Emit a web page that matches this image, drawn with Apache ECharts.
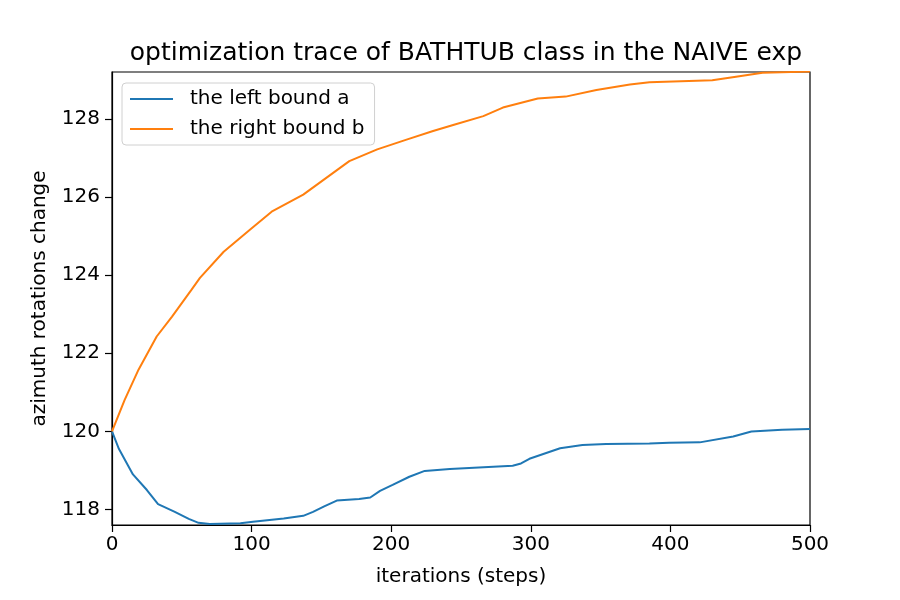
<!DOCTYPE html>
<html>
<head>
<meta charset="utf-8">
<script src="https://cdn.jsdelivr.net/npm/echarts@6/dist/echarts.min.js"></script>
<style>
  html, body { margin: 0; padding: 0; background: #fff; }
  #main { width: 900px; height: 600px; }
</style>
</head>
<body>
<div id="main"></div>
<script>
// data
var titleText = 'optimization trace of BATHTUB class in the NAIVE exp';
var seriesNames = ['the left bound a', 'the right bound b'];
var yTicks = [118, 120, 122, 124, 126, 128];

var leftSteps = [0, 5, 15, 25, 33, 45, 55, 62, 70, 92, 101, 123, 137, 144, 152, 161, 177, 185, 192, 201, 213, 224, 242, 287, 293, 299, 321, 337, 354, 385, 399, 421, 445, 458, 480, 500];
var leftValues = [120, 119.55, 118.9, 118.5, 118.14, 117.94, 117.76, 117.66, 117.63, 117.65, 117.69, 117.77, 117.84, 117.94, 118.08, 118.23, 118.27, 118.31, 118.48, 118.63, 118.84, 118.99, 119.04, 119.12, 119.18, 119.3, 119.57, 119.65, 119.68, 119.69, 119.71, 119.72, 119.87, 120.0, 120.04, 120.06];

var rightSteps = [0, 9, 19, 32, 43, 57, 63, 80, 99, 115, 137, 170, 190, 211, 230, 245, 266, 280, 305, 325, 347, 371, 385, 430, 447, 466, 500];
var rightValues = [120, 120.8, 121.58, 122.43, 122.94, 123.63, 123.93, 124.6, 125.17, 125.64, 126.06, 126.92, 127.22, 127.47, 127.69, 127.85, 128.07, 128.29, 128.52, 128.57, 128.74, 128.88, 128.94, 128.99, 129.08, 129.18, 129.21];

function pairs(xs, ys) {
  var out = [];
  for (var i = 0; i < xs.length; i++) out.push([xs[i], ys[i]]);
  return out;
}

var font = 'DejaVu Sans';
var myChart = echarts.init(document.getElementById('main'));

var option = {
  backgroundColor: '#fff',
  animation: false,
  textStyle: { fontFamily: font },
  title: {
    text: titleText,
    left: 461,
    textAlign: 'center',
    top: 36,
    textStyle: { fontFamily: font, fontSize: 25, fontWeight: 'normal', color: '#000' }
  },
  grid: {
    left: 112, right: 90, top: 72, bottom: 75,
    show: true, borderColor: '#000', borderWidth: 1.2, backgroundColor: 'transparent'
  },
  legend: {
    orient: 'vertical',
    left: 122, top: 83,
    padding: [6, 10, 6, 8],
    itemWidth: 43, itemHeight: 2, itemGap: 10,
    icon: 'rect',
    borderColor: '#d0d0d0', borderWidth: 1, borderRadius: 4,
    backgroundColor: 'rgba(255,255,255,0.8)',
    textStyle: { fontFamily: font, fontSize: 20, color: '#000', padding: [0, 0, 0, 12] },
    data: seriesNames
  },
  xAxis: {
    type: 'value',
    min: 0, max: 500, interval: 100,
    name: 'iterations (steps)',
    nameLocation: 'middle', nameGap: 42,
    nameTextStyle: { fontFamily: font, fontSize: 20, color: '#000' },
    axisLine: { onZero: false, lineStyle: { color: '#000', width: 1.2 } },
    axisTick: { inside: false, length: 7, lineStyle: { color: '#000', width: 1.2 } },
    axisLabel: { color: '#000', fontFamily: font, fontSize: 20, margin: 10 },
    splitLine: { show: false }
  },
  yAxis: {
    type: 'value',
    min: 117.605, max: 129.2,
    name: 'azimuth rotations change',
    nameLocation: 'middle', nameGap: 62,
    nameTextStyle: { fontFamily: font, fontSize: 20, color: '#000' },
    axisLine: { show: true, onZero: false, lineStyle: { color: '#000', width: 1.2 } },
    axisTick: { show: true, length: 7, customValues: yTicks, lineStyle: { color: '#000', width: 1.2 } },
    axisLabel: { color: '#000', fontFamily: font, fontSize: 20, margin: 12, customValues: yTicks },
    splitLine: { show: false }
  },
  series: [
    {
      name: seriesNames[0], type: 'line', data: pairs(leftSteps, leftValues),
      showSymbol: false, symbol: 'none', color: '#1f77b4',
      lineStyle: { width: 2, color: '#1f77b4' }
    },
    {
      name: seriesNames[1], type: 'line', data: pairs(rightSteps, rightValues),
      showSymbol: false, symbol: 'none', color: '#ff7f0e',
      lineStyle: { width: 2, color: '#ff7f0e' }
    }
  ]
};

myChart.setOption(option);
</script>
</body>
</html>
